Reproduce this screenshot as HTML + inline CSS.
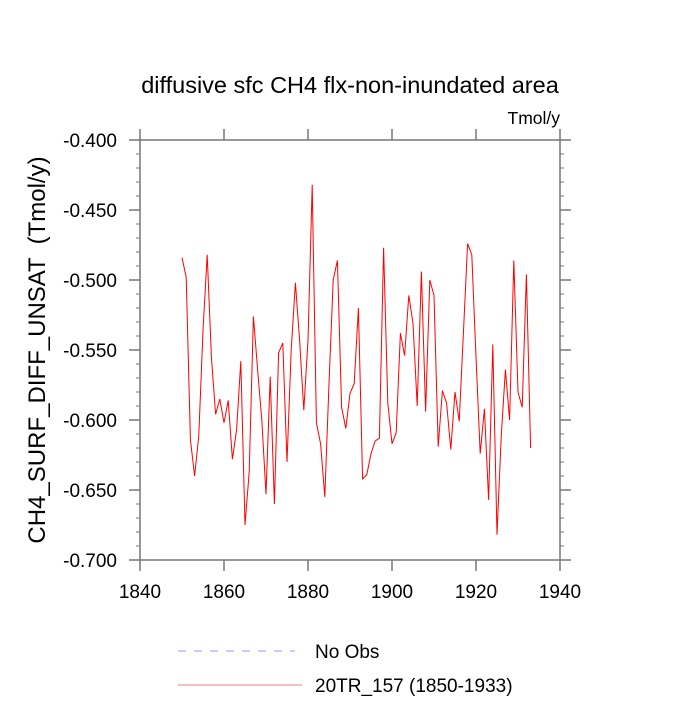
<!DOCTYPE html>
<html><head><meta charset="utf-8"><style>
body{margin:0;background:#fff;}
svg text{font-family:"Liberation Sans",sans-serif;fill:#000;}
</style></head><body>
<svg id="chart" width="700" height="700" xmlns="http://www.w3.org/2000/svg">
<text x="350" y="93" font-size="23.5" text-anchor="middle">diffusive sfc CH4 flx-non-inundated area</text>
<text x="560" y="124" font-size="17.5" text-anchor="end">Tmol/y</text>
<text transform="translate(45,350) rotate(-90)" font-size="24" text-anchor="middle" style="white-space:pre">CH4_SURF_DIFF_UNSAT  (Tmol/y)</text>
<g id="axes"></g>
<g id="series"></g>
<g>
<line x1="178" y1="651" x2="295" y2="651" stroke="#9999ff" stroke-width="1" stroke-dasharray="8,8"/>
<text x="315" y="658" font-size="19">No Obs</text>
<line x1="178" y1="685" x2="302" y2="685" stroke="#f08080" stroke-width="1"/>
<text x="315" y="692" font-size="19">20TR_157 (1850-1933)</text>
</g>
</svg>
<script>
const years = [];
for (let y = 1850; y <= 1933; y++) years.push(y);
const values = [-0.484,-0.498,-0.614,-0.640,-0.611,-0.536,-0.482,-0.555,-0.596,-0.585,
-0.602,-0.586,-0.628,-0.607,-0.558,-0.675,-0.637,-0.526,-0.564,-0.600,
-0.653,-0.569,-0.660,-0.552,-0.545,-0.630,-0.550,-0.502,-0.543,-0.593,
-0.543,-0.432,-0.602,-0.617,-0.655,-0.574,-0.500,-0.486,-0.591,-0.606,
-0.581,-0.574,-0.520,-0.642,-0.639,-0.624,-0.615,-0.613,-0.477,-0.588,
-0.617,-0.609,-0.538,-0.554,-0.511,-0.531,-0.590,-0.494,-0.594,-0.500,
-0.511,-0.619,-0.579,-0.588,-0.621,-0.580,-0.601,-0.538,-0.474,-0.482,
-0.555,-0.624,-0.592,-0.657,-0.546,-0.682,-0.612,-0.564,-0.600,-0.486,
-0.580,-0.591,-0.496,-0.620];
const xTicks = [1840,1860,1880,1900,1920,1940];
const yTicks = [-0.400,-0.450,-0.500,-0.550,-0.600,-0.650,-0.700];
const X0=140,X1=560,Y0=140,Y1=560;
const xs = v => X0 + (v-1840)/(1940-1840)*(X1-X0);
const ys = v => Y0 + (-0.4 - v)/(0.3)*(Y1-Y0);
const NS="http://www.w3.org/2000/svg";
const axes=document.getElementById('axes');
function mk(tag,attrs,parent){const e=document.createElementNS(NS,tag);for(const k in attrs)e.setAttribute(k,attrs[k]);parent.appendChild(e);return e;}
const frame=mk('rect',{x:X0,y:Y0,width:X1-X0,height:Y1-Y0,fill:'none',stroke:'#777','stroke-width':1.5},axes);


xTicks.forEach(t=>{
  const x=xs(t);
  const a=mk('line',{x1:x,y1:Y1,x2:x,y2:Y1+11,stroke:'#777','stroke-width':1.5},axes);
  
  
  const b=mk('line',{x1:x,y1:Y0,x2:x,y2:Y0-11,stroke:'#777','stroke-width':1.5},axes);
  
  
  const l=mk('text',{x:x,y:Y1+38,'font-size':19,'text-anchor':'middle'},axes);
  l.textContent=t;
  
  
});
yTicks.forEach(t=>{
  const y=ys(t);
  const a=mk('line',{x1:X0-11,y1:y,x2:X0,y2:y,stroke:'#777','stroke-width':1.5},axes);
  
  
  const b=mk('line',{x1:X1,y1:y,x2:X1+11,y2:y,stroke:'#777','stroke-width':1.5},axes);
  
  
  const l=mk('text',{x:117,y:y+7,'font-size':19,'text-anchor':'end'},axes);
  l.textContent=t.toFixed(3);
  
  
});
for(let i=1;i<30;i++){
  if(i%5===0)continue;
  const y=ys(-0.4-i*0.01);
  const a=mk('line',{x1:X0-4,y1:y,x2:X0,y2:y,stroke:'#777','stroke-width':1},axes);
  
  
  const b=mk('line',{x1:X1,y1:y,x2:X1+4,y2:y,stroke:'#777','stroke-width':1},axes);
  
  
}
const pts=years.map((yr,i)=>xs(yr).toFixed(2)+','+ys(values[i]).toFixed(2)).join(' ');
const line=mk('polyline',{points:pts,fill:'none',stroke:'#ff0000','stroke-width':1},document.getElementById('series'));


</script>
</body></html>
